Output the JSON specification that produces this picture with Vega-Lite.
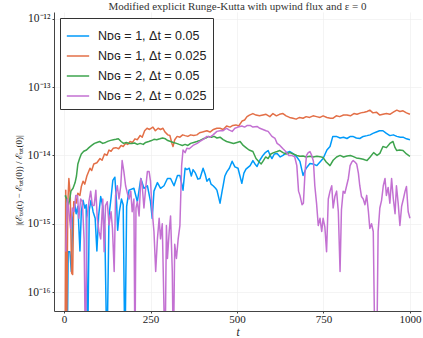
{
  "$schema": "https://vega.github.io/schema/vega-lite/v6.json",
  "width": 367,
  "height": 299,
  "autosize": {"type": "none"},
  "padding": {"left": 54, "top": 12, "right": 2, "bottom": 27},
  "background": "white",
  "title": {"text": "Modified explicit Runge-Kutta with upwind flux and ε = 0", "font": "Liberation Serif", "fontSize": 11, "fontWeight": "normal", "color": "#333", "offset": 0},
  "config": {
    "view": {"stroke": null},
    "axis": {"gridColor": "#ececec", "gridWidth": 0.6, "domainColor": "#444", "tickColor": "#444", "labelFont": "Liberation Serif", "labelFontSize": 11.5, "labelColor": "#222", "titleFont": "Liberation Serif", "titleColor": "#222"}
  },
  "data": {"values": [
    {"s":"b","t":5,"v":2.6e-15},{"s":"b","t":9,"v":1e-17},{"s":"b","t":12,"v":3.9e-16},{"s":"b","t":17,"v":3.9e-16},{"s":"b","t":21,"v":2e-16},{"s":"b","t":25,"v":1.2e-15},{"s":"b","t":30,"v":2.1e-15},{"s":"b","t":35,"v":1.4e-15},{"s":"b","t":40,"v":1.8e-15},{"s":"b","t":46,"v":4e-16},{"s":"b","t":50,"v":1.5e-15},{"s":"b","t":55,"v":2.2e-15},{"s":"b","t":60,"v":1.7e-15},{"s":"b","t":64,"v":1.9e-15},{"s":"b","t":68,"v":1e-17},{"s":"b","t":73,"v":1.6e-15},{"s":"b","t":78,"v":2.2e-15},{"s":"b","t":84,"v":1.5e-15},{"s":"b","t":90,"v":1.2e-15},{"s":"b","t":95,"v":4e-16},{"s":"b","t":100,"v":1.3e-15},{"s":"b","t":106,"v":2.5e-15},{"s":"b","t":112,"v":1.8e-15},{"s":"b","t":118,"v":8e-16},{"s":"b","t":124,"v":1e-17},{"s":"b","t":130,"v":1.3e-15},{"s":"b","t":136,"v":2.4e-15},{"s":"b","t":141,"v":4.3e-15},{"s":"b","t":147,"v":4.8e-15},{"s":"b","t":152,"v":2.0e-15},{"s":"b","t":155,"v":8e-16},{"s":"b","t":160,"v":1.5e-15},{"s":"b","t":166,"v":2.3e-15},{"s":"b","t":171,"v":1.9e-15},{"s":"b","t":176,"v":1e-17},{"s":"b","t":181,"v":1.8e-15},{"s":"b","t":188,"v":3.1e-15},{"s":"b","t":202,"v":3.3e-15},{"s":"b","t":212,"v":2.1e-15},{"s":"b","t":222,"v":4.6e-15},{"s":"b","t":231,"v":3.3e-15},{"s":"b","t":241,"v":3.6e-15},{"s":"b","t":250,"v":2.1e-15},{"s":"b","t":255,"v":1.2e-15},{"s":"b","t":260,"v":3.0e-15},{"s":"b","t":270,"v":4.0e-15},{"s":"b","t":279,"v":3.3e-15},{"s":"b","t":289,"v":3.6e-15},{"s":"b","t":299,"v":4.6e-15},{"s":"b","t":308,"v":4.6e-15},{"s":"b","t":318,"v":3.6e-15},{"s":"b","t":328,"v":5.1e-15},{"s":"b","t":335,"v":5.1e-15},{"s":"b","t":344,"v":3.1e-15},{"s":"b","t":350,"v":6.5e-15},{"s":"b","t":355,"v":6.2e-15},{"s":"b","t":362,"v":6.5e-15},{"s":"b","t":368,"v":5.0e-15},{"s":"b","t":373,"v":6.2e-15},{"s":"b","t":380,"v":5.5e-15},{"s":"b","t":387,"v":4.5e-15},{"s":"b","t":393,"v":4.6e-15},{"s":"b","t":402,"v":6.5e-15},{"s":"b","t":408,"v":5.3e-15},{"s":"b","t":413,"v":4.2e-15},{"s":"b","t":420,"v":4.6e-15},{"s":"b","t":425,"v":3.8e-15},{"s":"b","t":431,"v":3.6e-15},{"s":"b","t":438,"v":3.3e-15},{"s":"b","t":442,"v":3.1e-15},{"s":"b","t":451,"v":2.0e-15},{"s":"b","t":457,"v":3.0e-15},{"s":"b","t":460,"v":3.6e-15},{"s":"b","t":465,"v":5.0e-15},{"s":"b","t":471,"v":5.8e-15},{"s":"b","t":478,"v":6.5e-15},{"s":"b","t":486,"v":8.2e-15},{"s":"b","t":494,"v":6.8e-15},{"s":"b","t":503,"v":6.5e-15},{"s":"b","t":514,"v":3.9e-15},{"s":"b","t":520,"v":5.5e-15},{"s":"b","t":526,"v":6.3e-15},{"s":"b","t":538,"v":7.1e-15},{"s":"b","t":546,"v":8.4e-15},{"s":"b","t":552,"v":7.5e-15},{"s":"b","t":558,"v":6.9e-15},{"s":"b","t":566,"v":8.5e-15},{"s":"b","t":575,"v":1.0e-14},{"s":"b","t":582,"v":1.1e-14},{"s":"b","t":590,"v":1.18e-14},{"s":"b","t":596,"v":1.0e-14},{"s":"b","t":601,"v":9.0e-15},{"s":"b","t":608,"v":1.05e-14},{"s":"b","t":616,"v":1.07e-14},{"s":"b","t":625,"v":9.5e-15},{"s":"b","t":633,"v":1.0e-14},{"s":"b","t":643,"v":1.1e-14},{"s":"b","t":653,"v":1.14e-14},{"s":"b","t":663,"v":1.05e-14},{"s":"b","t":673,"v":9.5e-15},{"s":"b","t":682,"v":8.2e-15},{"s":"b","t":691,"v":5.1e-15},{"s":"b","t":700,"v":6.5e-15},{"s":"b","t":711,"v":7.6e-15},{"s":"b","t":720,"v":7.5e-15},{"s":"b","t":731,"v":7.1e-15},{"s":"b","t":740,"v":8.0e-15},{"s":"b","t":749,"v":9.0e-15},{"s":"b","t":760,"v":1.2e-14},{"s":"b","t":769,"v":1.35e-14},{"s":"b","t":777,"v":1.9e-14},{"s":"b","t":787,"v":1.9e-14},{"s":"b","t":798,"v":1.8e-14},{"s":"b","t":808,"v":1.85e-14},{"s":"b","t":818,"v":1.77e-14},{"s":"b","t":828,"v":1.9e-14},{"s":"b","t":835,"v":1.9e-14},{"s":"b","t":845,"v":1.8e-14},{"s":"b","t":855,"v":1.77e-14},{"s":"b","t":865,"v":1.9e-14},{"s":"b","t":876,"v":1.95e-14},{"s":"b","t":885,"v":2.0e-14},{"s":"b","t":893,"v":2.1e-14},{"s":"b","t":903,"v":2.2e-14},{"s":"b","t":912,"v":2.3e-14},{"s":"b","t":922,"v":2.3e-14},{"s":"b","t":932,"v":2.1e-14},{"s":"b","t":942,"v":1.95e-14},{"s":"b","t":952,"v":2.0e-14},{"s":"b","t":962,"v":1.9e-14},{"s":"b","t":972,"v":1.85e-14},{"s":"b","t":980,"v":1.85e-14},{"s":"b","t":990,"v":1.75e-14},{"s":"b","t":1000,"v":1.7e-14},

    {"s":"o","t":3,"v":1e-17},{"s":"o","t":5,"v":3.1e-15},{"s":"o","t":7,"v":1e-17},{"s":"o","t":11,"v":2e-15},{"s":"o","t":14,"v":4.6e-15},{"s":"o","t":18,"v":2.6e-15},{"s":"o","t":22,"v":1.9e-16},{"s":"o","t":25,"v":1.8e-16},{"s":"o","t":28,"v":2.1e-15},{"s":"o","t":35,"v":2.0e-15},{"s":"o","t":40,"v":2.8e-15},{"s":"o","t":46,"v":2.6e-15},{"s":"o","t":50,"v":3.5e-15},{"s":"o","t":55,"v":4.2e-15},{"s":"o","t":60,"v":3.8e-15},{"s":"o","t":66,"v":5.0e-15},{"s":"o","t":75,"v":6.5e-15},{"s":"o","t":80,"v":6.0e-15},{"s":"o","t":86,"v":7.5e-15},{"s":"o","t":95,"v":7.8e-15},{"s":"o","t":104,"v":9.0e-15},{"s":"o","t":110,"v":8.5e-15},{"s":"o","t":117,"v":1.05e-14},{"s":"o","t":124,"v":1.0e-14},{"s":"o","t":130,"v":1.2e-14},{"s":"o","t":136,"v":1.15e-14},{"s":"o","t":142,"v":1.27e-14},{"s":"o","t":150,"v":1.3e-14},{"s":"o","t":158,"v":1.25e-14},{"s":"o","t":165,"v":1.4e-14},{"s":"o","t":171,"v":1.35e-14},{"s":"o","t":178,"v":1.5e-14},{"s":"o","t":184,"v":1.45e-14},{"s":"o","t":191,"v":1.6e-14},{"s":"o","t":198,"v":1.55e-14},{"s":"o","t":205,"v":1.75e-14},{"s":"o","t":212,"v":1.7e-14},{"s":"o","t":220,"v":1.96e-14},{"s":"o","t":226,"v":1.85e-14},{"s":"o","t":233,"v":2.3e-14},{"s":"o","t":240,"v":2.5e-14},{"s":"o","t":247,"v":2.4e-14},{"s":"o","t":257,"v":2.6e-14},{"s":"o","t":264,"v":2.3e-14},{"s":"o","t":272,"v":2.5e-14},{"s":"o","t":279,"v":2.4e-14},{"s":"o","t":286,"v":2.5e-14},{"s":"o","t":292,"v":2.2e-14},{"s":"o","t":300,"v":2.0e-14},{"s":"o","t":306,"v":1.96e-14},{"s":"o","t":312,"v":1.5e-14},{"s":"o","t":315,"v":1.35e-14},{"s":"o","t":320,"v":1.7e-14},{"s":"o","t":327,"v":1.9e-14},{"s":"o","t":335,"v":1.85e-14},{"s":"o","t":343,"v":2.0e-14},{"s":"o","t":350,"v":1.95e-14},{"s":"o","t":358,"v":1.9e-14},{"s":"o","t":366,"v":2.0e-14},{"s":"o","t":375,"v":1.96e-14},{"s":"o","t":384,"v":2.0e-14},{"s":"o","t":392,"v":2.15e-14},{"s":"o","t":400,"v":2.2e-14},{"s":"o","t":413,"v":2.3e-14},{"s":"o","t":422,"v":2.2e-14},{"s":"o","t":432,"v":2.4e-14},{"s":"o","t":442,"v":2.5e-14},{"s":"o","t":451,"v":2.5e-14},{"s":"o","t":460,"v":2.4e-14},{"s":"o","t":470,"v":2.7e-14},{"s":"o","t":480,"v":2.6e-14},{"s":"o","t":488,"v":2.75e-14},{"s":"o","t":497,"v":2.8e-14},{"s":"o","t":505,"v":2.7e-14},{"s":"o","t":515,"v":3.2e-14},{"s":"o","t":522,"v":3.3e-14},{"s":"o","t":529,"v":3.7e-14},{"s":"o","t":536,"v":3.9e-14},{"s":"o","t":546,"v":4.1e-14},{"s":"o","t":555,"v":3.9e-14},{"s":"o","t":565,"v":3.8e-14},{"s":"o","t":575,"v":3.9e-14},{"s":"o","t":584,"v":4.0e-14},{"s":"o","t":595,"v":3.7e-14},{"s":"o","t":604,"v":4.1e-14},{"s":"o","t":614,"v":3.8e-14},{"s":"o","t":623,"v":4.0e-14},{"s":"o","t":633,"v":4.1e-14},{"s":"o","t":642,"v":3.8e-14},{"s":"o","t":652,"v":3.6e-14},{"s":"o","t":662,"v":3.5e-14},{"s":"o","t":671,"v":3.4e-14},{"s":"o","t":681,"v":3.6e-14},{"s":"o","t":691,"v":3.5e-14},{"s":"o","t":700,"v":3.7e-14},{"s":"o","t":710,"v":3.6e-14},{"s":"o","t":720,"v":3.8e-14},{"s":"o","t":730,"v":3.7e-14},{"s":"o","t":740,"v":3.6e-14},{"s":"o","t":749,"v":3.8e-14},{"s":"o","t":760,"v":3.6e-14},{"s":"o","t":770,"v":3.5e-14},{"s":"o","t":777,"v":3.5e-14},{"s":"o","t":787,"v":3.8e-14},{"s":"o","t":797,"v":3.7e-14},{"s":"o","t":808,"v":3.9e-14},{"s":"o","t":818,"v":3.9e-14},{"s":"o","t":828,"v":3.8e-14},{"s":"o","t":838,"v":4.1e-14},{"s":"o","t":847,"v":4.0e-14},{"s":"o","t":858,"v":4.2e-14},{"s":"o","t":868,"v":4.3e-14},{"s":"o","t":876,"v":4.4e-14},{"s":"o","t":884,"v":4.6e-14},{"s":"o","t":893,"v":4.2e-14},{"s":"o","t":903,"v":4.3e-14},{"s":"o","t":913,"v":3.9e-14},{"s":"o","t":922,"v":4.0e-14},{"s":"o","t":932,"v":4.1e-14},{"s":"o","t":942,"v":4.0e-14},{"s":"o","t":952,"v":4.3e-14},{"s":"o","t":962,"v":4.6e-14},{"s":"o","t":971,"v":4.4e-14},{"s":"o","t":980,"v":4.5e-14},{"s":"o","t":990,"v":4.2e-14},{"s":"o","t":1000,"v":4.0e-14},

    {"s":"g","t":3,"v":2.6e-15},{"s":"g","t":8,"v":2.3e-15},{"s":"g","t":12,"v":1.85e-15},{"s":"g","t":16,"v":2.2e-15},{"s":"g","t":20,"v":3.0e-15},{"s":"g","t":26,"v":3.3e-15},{"s":"g","t":32,"v":4.0e-15},{"s":"g","t":36,"v":5.0e-15},{"s":"g","t":40,"v":7.5e-15},{"s":"g","t":45,"v":9.0e-15},{"s":"g","t":50,"v":1.05e-14},{"s":"g","t":57,"v":1.15e-14},{"s":"g","t":65,"v":1.2e-14},{"s":"g","t":72,"v":1.3e-14},{"s":"g","t":80,"v":1.4e-14},{"s":"g","t":88,"v":1.5e-14},{"s":"g","t":95,"v":1.55e-14},{"s":"g","t":103,"v":1.6e-14},{"s":"g","t":112,"v":1.5e-14},{"s":"g","t":120,"v":1.55e-14},{"s":"g","t":128,"v":1.62e-14},{"s":"g","t":135,"v":1.66e-14},{"s":"g","t":143,"v":1.7e-14},{"s":"g","t":150,"v":1.72e-14},{"s":"g","t":157,"v":1.75e-14},{"s":"g","t":165,"v":1.6e-14},{"s":"g","t":172,"v":1.5e-14},{"s":"g","t":180,"v":1.55e-14},{"s":"g","t":188,"v":1.5e-14},{"s":"g","t":196,"v":1.5e-14},{"s":"g","t":204,"v":1.52e-14},{"s":"g","t":212,"v":1.45e-14},{"s":"g","t":220,"v":1.5e-14},{"s":"g","t":229,"v":1.45e-14},{"s":"g","t":236,"v":1.55e-14},{"s":"g","t":245,"v":1.6e-14},{"s":"g","t":253,"v":1.65e-14},{"s":"g","t":260,"v":1.72e-14},{"s":"g","t":268,"v":1.7e-14},{"s":"g","t":277,"v":1.75e-14},{"s":"g","t":285,"v":1.8e-14},{"s":"g","t":293,"v":1.75e-14},{"s":"g","t":300,"v":1.65e-14},{"s":"g","t":308,"v":1.6e-14},{"s":"g","t":316,"v":1.55e-14},{"s":"g","t":325,"v":1.5e-14},{"s":"g","t":333,"v":1.45e-14},{"s":"g","t":342,"v":1.4e-14},{"s":"g","t":350,"v":1.45e-14},{"s":"g","t":358,"v":1.4e-14},{"s":"g","t":366,"v":1.5e-14},{"s":"g","t":375,"v":1.55e-14},{"s":"g","t":384,"v":1.6e-14},{"s":"g","t":393,"v":1.66e-14},{"s":"g","t":402,"v":1.75e-14},{"s":"g","t":410,"v":1.8e-14},{"s":"g","t":418,"v":1.9e-14},{"s":"g","t":426,"v":1.85e-14},{"s":"g","t":434,"v":1.9e-14},{"s":"g","t":442,"v":1.8e-14},{"s":"g","t":451,"v":1.85e-14},{"s":"g","t":460,"v":1.7e-14},{"s":"g","t":470,"v":1.6e-14},{"s":"g","t":480,"v":1.55e-14},{"s":"g","t":490,"v":1.5e-14},{"s":"g","t":500,"v":1.55e-14},{"s":"g","t":509,"v":1.6e-14},{"s":"g","t":518,"v":1.4e-14},{"s":"g","t":526,"v":1.3e-14},{"s":"g","t":535,"v":1.2e-14},{"s":"g","t":546,"v":1.14e-14},{"s":"g","t":555,"v":9.0e-15},{"s":"g","t":564,"v":8.0e-15},{"s":"g","t":570,"v":7.5e-15},{"s":"g","t":575,"v":8.2e-15},{"s":"g","t":583,"v":9.5e-15},{"s":"g","t":590,"v":9.0e-15},{"s":"g","t":598,"v":1.05e-14},{"s":"g","t":606,"v":1.1e-14},{"s":"g","t":616,"v":1.14e-14},{"s":"g","t":624,"v":1.18e-14},{"s":"g","t":633,"v":1.1e-14},{"s":"g","t":642,"v":1.05e-14},{"s":"g","t":653,"v":1.1e-14},{"s":"g","t":663,"v":1.05e-14},{"s":"g","t":673,"v":1.0e-14},{"s":"g","t":682,"v":9.7e-15},{"s":"g","t":691,"v":9.8e-15},{"s":"g","t":700,"v":9.5e-15},{"s":"g","t":711,"v":9.7e-15},{"s":"g","t":720,"v":9.5e-15},{"s":"g","t":731,"v":9.7e-15},{"s":"g","t":740,"v":9.6e-15},{"s":"g","t":749,"v":9.3e-15},{"s":"g","t":758,"v":8.0e-15},{"s":"g","t":769,"v":7.1e-15},{"s":"g","t":778,"v":8.5e-15},{"s":"g","t":788,"v":9.5e-15},{"s":"g","t":798,"v":1.0e-14},{"s":"g","t":808,"v":9.5e-15},{"s":"g","t":818,"v":9.8e-15},{"s":"g","t":828,"v":1.0e-14},{"s":"g","t":835,"v":9.7e-15},{"s":"g","t":845,"v":9.2e-15},{"s":"g","t":855,"v":9.0e-15},{"s":"g","t":865,"v":8.8e-15},{"s":"g","t":876,"v":8.4e-15},{"s":"g","t":885,"v":9.5e-15},{"s":"g","t":895,"v":1.1e-14},{"s":"g","t":905,"v":1.0e-14},{"s":"g","t":913,"v":1.07e-14},{"s":"g","t":922,"v":1.35e-14},{"s":"g","t":932,"v":1.3e-14},{"s":"g","t":942,"v":1.5e-14},{"s":"g","t":951,"v":1.6e-14},{"s":"g","t":957,"v":1.3e-14},{"s":"g","t":962,"v":1.18e-14},{"s":"g","t":970,"v":1.2e-14},{"s":"g","t":980,"v":1.18e-14},{"s":"g","t":990,"v":1.05e-14},{"s":"g","t":1000,"v":9.7e-15},

    {"s":"p","t":5,"v":3.9e-16},{"s":"p","t":10,"v":2.3e-15},{"s":"p","t":14,"v":1.5e-15},{"s":"p","t":19,"v":8.5e-16},{"s":"p","t":24,"v":1.7e-15},{"s":"p","t":29,"v":1.5e-15},{"s":"p","t":34,"v":2.6e-15},{"s":"p","t":39,"v":2.6e-15},{"s":"p","t":43,"v":1.2e-15},{"s":"p","t":48,"v":2.3e-15},{"s":"p","t":53,"v":2.1e-15},{"s":"p","t":58,"v":6e-16},{"s":"p","t":62,"v":1e-17},{"s":"p","t":66,"v":1.2e-15},{"s":"p","t":72,"v":2.1e-15},{"s":"p","t":77,"v":3.0e-15},{"s":"p","t":82,"v":1.85e-15},{"s":"p","t":87,"v":1.85e-15},{"s":"p","t":92,"v":3.1e-15},{"s":"p","t":96,"v":1.2e-15},{"s":"p","t":101,"v":7.7e-16},{"s":"p","t":106,"v":6e-16},{"s":"p","t":112,"v":2.3e-15},{"s":"p","t":116,"v":3.9e-16},{"s":"p","t":120,"v":1.85e-15},{"s":"p","t":125,"v":2.1e-15},{"s":"p","t":130,"v":9.6e-16},{"s":"p","t":136,"v":1.5e-15},{"s":"p","t":140,"v":8.5e-16},{"s":"p","t":145,"v":2e-16},{"s":"p","t":149,"v":2.6e-15},{"s":"p","t":154,"v":3.6e-15},{"s":"p","t":159,"v":2.3e-15},{"s":"p","t":164,"v":3.6e-15},{"s":"p","t":168,"v":8.4e-15},{"s":"p","t":173,"v":5.8e-15},{"s":"p","t":178,"v":3.6e-15},{"s":"p","t":183,"v":2.8e-15},{"s":"p","t":188,"v":2.3e-15},{"s":"p","t":193,"v":3.0e-15},{"s":"p","t":197,"v":1.5e-15},{"s":"p","t":202,"v":2.3e-15},{"s":"p","t":205,"v":1e-17},{"s":"p","t":208,"v":1.7e-15},{"s":"p","t":212,"v":2.1e-15},{"s":"p","t":217,"v":1.3e-15},{"s":"p","t":222,"v":4.6e-15},{"s":"p","t":226,"v":3.6e-15},{"s":"p","t":231,"v":1.7e-15},{"s":"p","t":236,"v":3.3e-15},{"s":"p","t":241,"v":5.8e-15},{"s":"p","t":246,"v":5.8e-15},{"s":"p","t":250,"v":4.2e-15},{"s":"p","t":255,"v":1.5e-15},{"s":"p","t":260,"v":7.7e-16},{"s":"p","t":265,"v":2e-16},{"s":"p","t":270,"v":6e-16},{"s":"p","t":275,"v":1.2e-15},{"s":"p","t":279,"v":6e-16},{"s":"p","t":284,"v":1.0e-15},{"s":"p","t":292,"v":1e-17},{"s":"p","t":296,"v":9.4e-16},{"s":"p","t":299,"v":3.1e-16},{"s":"p","t":304,"v":7.7e-16},{"s":"p","t":308,"v":1.3e-15},{"s":"p","t":313,"v":2e-16},{"s":"p","t":316,"v":1e-17},{"s":"p","t":320,"v":5e-16},{"s":"p","t":325,"v":3.1e-16},{"s":"p","t":330,"v":6e-16},{"s":"p","t":335,"v":9.4e-16},{"s":"p","t":340,"v":7.1e-15},{"s":"p","t":344,"v":1.2e-14},{"s":"p","t":350,"v":1.1e-14},{"s":"p","t":355,"v":1.27e-14},{"s":"p","t":362,"v":1.25e-14},{"s":"p","t":373,"v":1.4e-14},{"s":"p","t":385,"v":1.5e-14},{"s":"p","t":393,"v":1.6e-14},{"s":"p","t":405,"v":1.75e-14},{"s":"p","t":413,"v":1.9e-14},{"s":"p","t":422,"v":1.85e-14},{"s":"p","t":431,"v":2.0e-14},{"s":"p","t":442,"v":2.25e-14},{"s":"p","t":451,"v":2.3e-14},{"s":"p","t":460,"v":2.3e-14},{"s":"p","t":470,"v":2.5e-14},{"s":"p","t":478,"v":2.35e-14},{"s":"p","t":486,"v":2.25e-14},{"s":"p","t":494,"v":2.5e-14},{"s":"p","t":503,"v":2.6e-14},{"s":"p","t":514,"v":2.7e-14},{"s":"p","t":522,"v":2.6e-14},{"s":"p","t":530,"v":2.75e-14},{"s":"p","t":538,"v":2.75e-14},{"s":"p","t":546,"v":2.6e-14},{"s":"p","t":558,"v":2.66e-14},{"s":"p","t":566,"v":2.5e-14},{"s":"p","t":575,"v":2.4e-14},{"s":"p","t":584,"v":2.3e-14},{"s":"p","t":590,"v":2.25e-14},{"s":"p","t":601,"v":1.9e-14},{"s":"p","t":610,"v":1.77e-14},{"s":"p","t":616,"v":1.5e-14},{"s":"p","t":624,"v":1.4e-14},{"s":"p","t":633,"v":1.25e-14},{"s":"p","t":641,"v":1.14e-14},{"s":"p","t":650,"v":1.0e-14},{"s":"p","t":658,"v":1.0e-14},{"s":"p","t":667,"v":9.5e-15},{"s":"p","t":673,"v":7.1e-15},{"s":"p","t":678,"v":3.0e-15},{"s":"p","t":682,"v":2.6e-15},{"s":"p","t":688,"v":1.9e-15},{"s":"p","t":692,"v":2.0e-15},{"s":"p","t":697,"v":6e-15},{"s":"p","t":701,"v":1.0e-14},{"s":"p","t":706,"v":1.1e-14},{"s":"p","t":711,"v":1.14e-14},{"s":"p","t":716,"v":1.0e-14},{"s":"p","t":721,"v":8.2e-15},{"s":"p","t":725,"v":3.6e-15},{"s":"p","t":730,"v":2.0e-15},{"s":"p","t":735,"v":9.4e-16},{"s":"p","t":740,"v":1.2e-15},{"s":"p","t":745,"v":7.7e-16},{"s":"p","t":749,"v":1.2e-15},{"s":"p","t":754,"v":9e-16},{"s":"p","t":759,"v":3.9e-16},{"s":"p","t":764,"v":2.3e-15},{"s":"p","t":769,"v":3.0e-15},{"s":"p","t":774,"v":3.6e-15},{"s":"p","t":778,"v":1.7e-15},{"s":"p","t":783,"v":2.5e-15},{"s":"p","t":788,"v":3.0e-15},{"s":"p","t":793,"v":1.5e-15},{"s":"p","t":798,"v":2.0e-16},{"s":"p","t":802,"v":1.6e-15},{"s":"p","t":807,"v":3.0e-15},{"s":"p","t":812,"v":2.8e-15},{"s":"p","t":817,"v":3.6e-15},{"s":"p","t":822,"v":4.6e-15},{"s":"p","t":827,"v":7.1e-15},{"s":"p","t":832,"v":8.0e-15},{"s":"p","t":836,"v":8.4e-15},{"s":"p","t":841,"v":8.0e-15},{"s":"p","t":846,"v":7.5e-15},{"s":"p","t":851,"v":5.5e-15},{"s":"p","t":855,"v":3.6e-15},{"s":"p","t":860,"v":2.5e-15},{"s":"p","t":865,"v":2.3e-15},{"s":"p","t":870,"v":1.9e-15},{"s":"p","t":875,"v":2.6e-15},{"s":"p","t":880,"v":1.5e-15},{"s":"p","t":884,"v":8.5e-16},{"s":"p","t":889,"v":1.0e-15},{"s":"p","t":894,"v":7.7e-16},{"s":"p","t":899,"v":1e-17},{"s":"p","t":904,"v":1e-17},{"s":"p","t":908,"v":7.7e-16},{"s":"p","t":913,"v":1.7e-15},{"s":"p","t":918,"v":2.2e-15},{"s":"p","t":923,"v":3.6e-15},{"s":"p","t":928,"v":4.6e-15},{"s":"p","t":932,"v":2.6e-15},{"s":"p","t":937,"v":3.4e-15},{"s":"p","t":942,"v":2.0e-15},{"s":"p","t":947,"v":4.6e-15},{"s":"p","t":952,"v":2.3e-15},{"s":"p","t":957,"v":1.4e-15},{"s":"p","t":961,"v":3.6e-15},{"s":"p","t":966,"v":2.0e-15},{"s":"p","t":971,"v":9.4e-16},{"s":"p","t":976,"v":1.8e-15},{"s":"p","t":981,"v":2.3e-15},{"s":"p","t":986,"v":3.0e-15},{"s":"p","t":990,"v":3.5e-15},{"s":"p","t":995,"v":1.5e-15},{"s":"p","t":1000,"v":1.2e-15}
  ]},
  "mark": {"type": "line", "clip": true, "strokeWidth": 1.5, "strokeJoin": "round"},
  "encoding": {
    "x": {"field": "t", "type": "quantitative", "scale": {"domain": [-29, 1032], "nice": false, "zero": false},
      "axis": {"values": [0, 250, 500, 750, 1000], "format": "d", "title": "t", "titleFontStyle": "italic", "titleFontWeight": "normal", "titleFontSize": 11.5, "titleY": 24, "titleBaseline": "alphabetic", "tickSize": 2, "labelPadding": 0, "labelFontSize": 11}},
    "y": {"field": "v", "type": "quantitative", "scale": {"type": "log", "domain": [5.27e-17, 1.26e-12], "nice": false},
      "axis": {"values": [1e-16, 1e-15, 1e-14, 1e-13, 1e-12], "title": "|(ℰₜₒₜ(t) − ℰₜₒₜ(0)) / ℰₜₒₜ(0)|", "titleFontSize": 9, "titleFontWeight": "normal", "titleY": 168, "titlePadding": 4, "tickSize": 2, "labelPadding": 2,
        "labelExpr": "datum.value < 5e-16 ? '10⁻¹⁶' : datum.value < 5e-15 ? '10⁻¹⁵' : datum.value < 5e-14 ? '10⁻¹⁴' : datum.value < 5e-13 ? '10⁻¹³' : '10⁻¹²'"}},
    "color": {"field": "s", "type": "nominal",
      "scale": {"domain": ["b", "o", "g", "p"], "range": ["#009AFA", "#E36F47", "#3EA44E", "#C371D2"]},
      "legend": {"title": null, "orient": "top-left", "offset": 6, "padding": 6, "strokeColor": "#333", "fillColor": "white",
        "symbolType": "stroke", "symbolSize": 500, "symbolStrokeWidth": 1.5, "labelFont": "Liberation Sans", "labelFontSize": 12.5, "labelColor": "#222", "rowPadding": 1, "labelOffset": 8,
        "labelExpr": "datum.value == 'b' ? 'Nᴅɢ = 1, Δt = 0.05' : datum.value == 'o' ? 'Nᴅɢ = 1, Δt = 0.025' : datum.value == 'g' ? 'Nᴅɢ = 2, Δt = 0.05' : 'Nᴅɢ = 2, Δt = 0.025'"}}
  }
}
